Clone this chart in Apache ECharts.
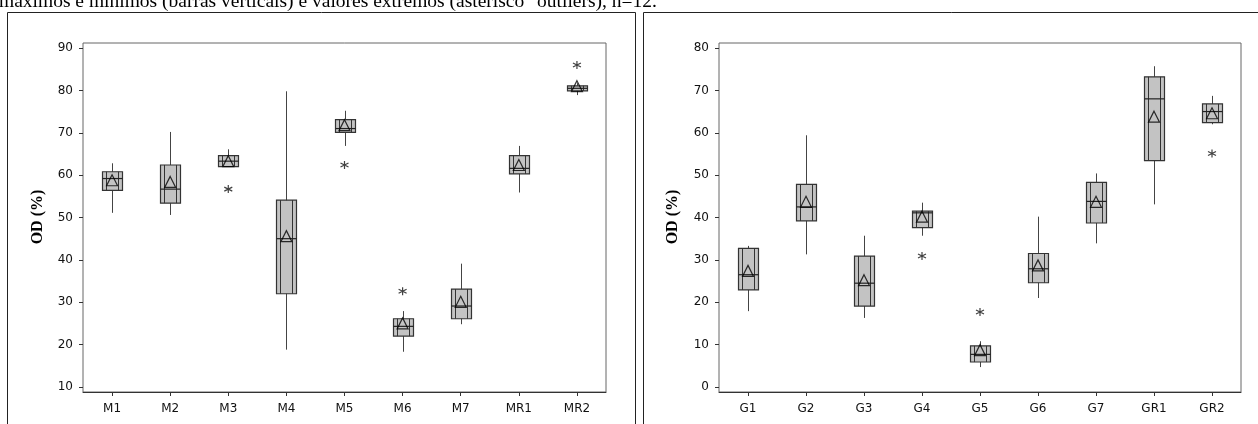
<!DOCTYPE html>
<html lang="pt">
<head>
    <meta charset="UTF-8">
    <title>OD (%) - boxplots</title>
    <script src="https://cdn.jsdelivr.net/npm/echarts@6/dist/echarts.min.js"></script>
    <style>
        html, body { margin: 0; padding: 0; background: #fff; }
        #chart { width: 1258px; height: 424px; }
    </style>
</head>
<body>
<div id="chart"></div>
<script>
    // categorias
    var catsM = ['M1', 'M2', 'M3', 'M4', 'M5', 'M6', 'M7', 'MR1', 'MR2'];
    var catsG = ['G1', 'G2', 'G3', 'G4', 'G5', 'G6', 'G7', 'GR1', 'GR2'];

    // [min bigode, Q1, mediana, Q3, max bigode]
    var boxM = [
        [51.1, 56.4, 59.2, 60.8, 62.8],
        [50.6, 53.4, 56.7, 62.4, 70.2],
        [62.0, 62.0, 63.3, 64.6, 66.1],
        [18.8, 32.0, 45.0, 54.1, 79.8],
        [66.9, 70.1, 71.0, 73.1, 75.2],
        [18.3, 22.0, 24.3, 26.1, 27.9],
        [24.8, 26.1, 29.1, 33.1, 39.1],
        [55.9, 60.3, 61.6, 64.6, 66.9],
        [78.9, 79.9, 80.5, 81.1, 81.7]
    ];
    var boxG = [
        [17.9, 22.9, 26.5, 32.7, 33.3],
        [31.3, 39.2, 42.5, 47.8, 59.4],
        [16.3, 19.1, 24.5, 30.9, 35.7],
        [35.7, 37.6, 41.1, 41.5, 43.5],
        [4.7, 5.9, 7.7, 9.7, 10.8],
        [21.0, 24.6, 27.9, 31.5, 40.2],
        [33.9, 38.7, 43.8, 48.3, 50.4],
        [43.1, 53.4, 68.0, 73.2, 75.7],
        [62.0, 62.4, 65.0, 66.8, 68.7]
    ];

    // médias (triângulo)
    var meanM = [58.8, 58.4, 63.3, 45.6, 71.8, 25.0, 30.1, 62.4, 81.0];
    var meanG = [27.4, 43.7, 25.2, 40.2, 8.7, 28.7, 43.7, 63.8, 64.6];

    // outliers (asterisco): [categoria, valor]
    var outM = [['M3', 56.7], ['M5', 62.4], ['M6', 32.6], ['MR2', 86.0]];
    var outG = [['G4', 30.9], ['G5', 17.7], ['GR2', 55.1]];

    var ticksM = [10, 20, 30, 40, 50, 60, 70, 80, 90];
    var ticksG = [0, 10, 20, 30, 40, 50, 60, 70, 80];

    var chart = echarts.init(document.getElementById('chart'));

    function boxData(cats, box) {
        return cats.map(function (c, i) {
            return [i].concat(box[i]);
        });
    }

    function renderBox(params, api) {
        var x = api.value(0);
        var lo = api.coord([x, api.value(1)]);
        var q1 = api.coord([x, api.value(2)]);
        var md = api.coord([x, api.value(3)]);
        var q3 = api.coord([x, api.value(4)]);
        var hi = api.coord([x, api.value(5)]);
        var cx = Math.round(lo[0]) + 0.5;
        var w = 20;
        var l = cx - w / 2, r = cx + w / 2;
        var line = { stroke: '#333', lineWidth: 1 };
        return {
            type: 'group',
            children: [
                { type: 'line', shape: { x1: cx, y1: hi[1], x2: cx, y2: lo[1] }, style: { stroke: '#444', lineWidth: 1 } },
                { type: 'rect', shape: { x: l, y: q3[1], width: w, height: q1[1] - q3[1] }, style: { fill: '#c3c3c3', stroke: '#333', lineWidth: 1.2 } },
                { type: 'line', shape: { x1: l + 4, y1: q3[1], x2: l + 4, y2: q1[1] }, style: line },
                { type: 'line', shape: { x1: r - 4, y1: q3[1], x2: r - 4, y2: q1[1] }, style: line },
                { type: 'line', shape: { x1: l, y1: md[1], x2: r, y2: md[1] }, style: { stroke: '#222', lineWidth: 1.2 } }
            ]
        };
    }

    var star = 'path://M5 0 L5 10 M0.7 2.5 L9.3 7.5 M0.7 7.5 L9.3 2.5';

    function yAxisOpt(idx, min, max, ticks) {
        return {
            type: 'value', gridIndex: idx, min: min, max: max,
            axisLine: { show: false },
            splitLine: { show: false },
            axisTick: { show: true, length: 4, lineStyle: { color: '#333' }, customValues: ticks },
            axisLabel: { color: '#111', fontFamily: 'DejaVu Sans', fontSize: 12, margin: 10, customValues: ticks }
        };
    }

    function xAxisOpt(idx, cats) {
        return {
            type: 'category', gridIndex: idx, data: cats,
            axisLine: { show: true, onZero: false, lineStyle: { color: '#333' } },
            axisTick: { show: true, alignWithLabel: true, length: 4, lineStyle: { color: '#333' } },
            axisLabel: { color: '#111', fontFamily: 'DejaVu Sans', fontSize: 12, margin: 11 }
        };
    }

    function series(idx, cats, box, mean, out) {
        return [
            {
                type: 'custom', xAxisIndex: idx, yAxisIndex: idx,
                renderItem: renderBox,
                data: boxData(cats, box),
                encode: { x: 0, y: [1, 2, 3, 4, 5] }
            },
            {
                type: 'scatter', xAxisIndex: idx, yAxisIndex: idx,
                symbol: 'triangle', symbolSize: [11, 11],
                itemStyle: { color: 'rgba(0,0,0,0)', borderColor: '#000', borderWidth: 1.2 },
                data: cats.map(function (c, i) { return [c, mean[i]]; }),
                z: 5
            },
            {
                type: 'scatter', xAxisIndex: idx, yAxisIndex: idx,
                symbol: star, symbolSize: 8,
                itemStyle: { color: 'none', borderColor: '#111', borderWidth: 1.2 },
                data: out,
                z: 5
            }
        ];
    }

    chart.setOption({
        animation: false,
        textStyle: { fontFamily: 'DejaVu Sans' },
        grid: [
            { left: 83, top: 43, width: 523, height: 349, show: true, borderColor: '#666', borderWidth: 1, containLabel: false },
            { left: 719, top: 43, width: 522, height: 349, show: true, borderColor: '#666', borderWidth: 1, containLabel: false }
        ],
        xAxis: [xAxisOpt(0, catsM), xAxisOpt(1, catsG)],
        yAxis: [yAxisOpt(0, 8.8, 91.2, ticksM), yAxisOpt(1, -1.18, 81.18, ticksG)],
        series: series(0, catsM, boxM, meanM, outM).concat(series(1, catsG, boxG, meanG, outG)),
        graphic: [
            {
                type: 'text', x: -1, y: 1.5,
                style: {
                    text: 'máximos e mínimos (barras verticais) e valores extremos (asterisco "outliers), n=12.',
                    font: '19.5px "Liberation Serif"', fill: '#000', verticalAlign: 'middle'
                }
            },
            { type: 'rect', shape: { x: 7.5, y: 12.5, width: 628, height: 500 }, style: { fill: 'none', stroke: '#222', lineWidth: 1 } },
            { type: 'rect', shape: { x: 643.5, y: 12.5, width: 640, height: 500 }, style: { fill: 'none', stroke: '#222', lineWidth: 1 } },
            {
                type: 'text', x: 38, y: 217, rotation: Math.PI / 2,
                style: { text: 'OD (%)', font: 'bold 16px "Liberation Serif"', fill: '#000', align: 'center', verticalAlign: 'middle' }
            },
            {
                type: 'text', x: 673, y: 217, rotation: Math.PI / 2,
                style: { text: 'OD (%)', font: 'bold 16px "Liberation Serif"', fill: '#000', align: 'center', verticalAlign: 'middle' }
            }
        ]
    });
</script>
</body>
</html>
